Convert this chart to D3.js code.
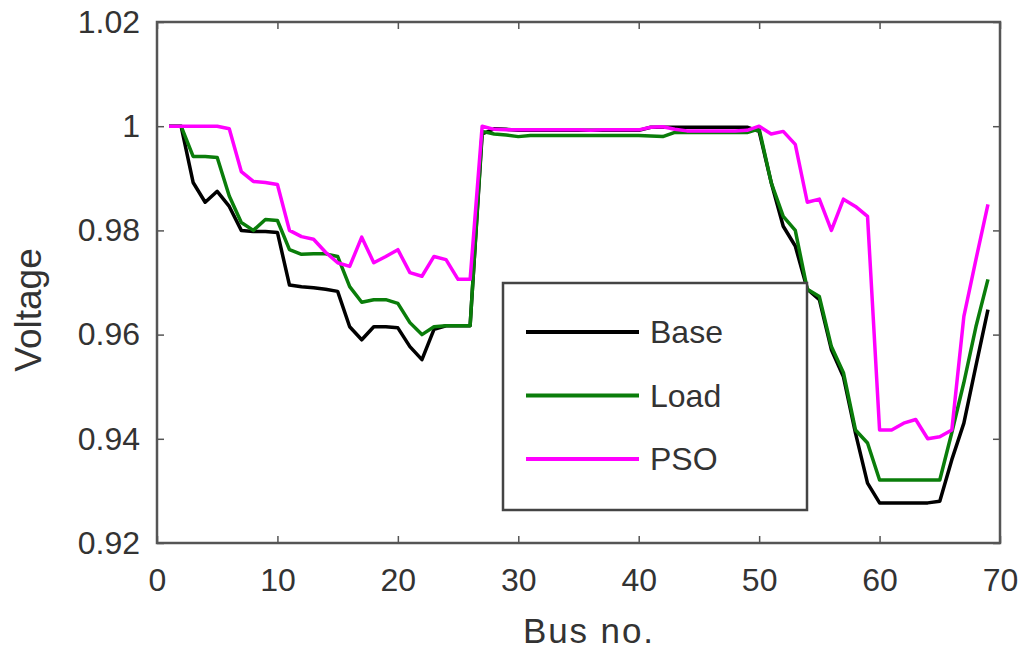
<!DOCTYPE html>
<html>
<head>
<meta charset="utf-8">
<script src="https://cdn.jsdelivr.net/npm/d3@7"></script>
<style>
  body { margin: 0; background: #fff; }
  text { font-family: "Liberation Sans", Arial, sans-serif; fill: #333; }
</style>
</head>
<body>
<div id="chart"></div>
<script>
var w = 1025,
    h = 652;

// bus numbers
var buses = [1,2,3,4,5,6,7,8,9,10,11,12,13,14,15,16,17,18,19,20,
  21,22,23,24,25,26,27,28,29,30,31,32,33,34,35,36,37,38,39,40,
  41,42,43,44,45,46,47,48,49,50,51,52,53,54,55,56,57,58,59,60,
  61,62,63,64,65,66,67,68,69];

var base = [1.0,1.0,0.9892,0.9854,0.9875,0.9846,0.9800,0.9798,0.9798,0.9796,
  0.9695,0.9692,0.9690,0.9687,0.9683,0.9615,0.9590,0.9615,0.9615,0.9613,
  0.9577,0.9552,0.9610,0.9617,0.9617,0.9617,0.9985,0.9995,0.9994,0.9992,
  0.9992,0.9992,0.9992,0.9992,0.9992,0.9992,0.9992,0.9992,0.9992,0.9992,
  0.9998,0.9998,0.9998,0.9998,0.9998,0.9998,0.9998,0.9998,0.9998,0.9990,
  0.9892,0.9808,0.9770,0.9687,0.9667,0.9571,0.9519,0.9411,0.9315,0.9277,
  0.9277,0.9277,0.9277,0.9277,0.9280,0.9360,0.9430,0.9540,0.9648];

var load = [1.0,1.0,0.9942,0.9942,0.9940,0.9866,0.9815,0.9800,0.9821,0.9819,
  0.9763,0.9754,0.9755,0.9755,0.9750,0.9692,0.9662,0.9667,0.9667,0.9660,
  0.9623,0.9600,0.9615,0.9617,0.9617,0.9617,0.9990,0.9985,0.9983,0.9980,
  0.9982,0.9982,0.9982,0.9982,0.9982,0.9982,0.9982,0.9982,0.9982,0.9982,
  0.9981,0.9980,0.9988,0.9988,0.9988,0.9988,0.9988,0.9988,0.9988,0.9995,
  0.9892,0.9827,0.9800,0.9687,0.9673,0.9577,0.9527,0.9417,0.9392,0.9321,
  0.9321,0.9321,0.9321,0.9321,0.9321,0.9412,0.9508,0.9615,0.9706];

var pso = [1.0,1.0,1.0,1.0,1.0,0.9995,0.9913,0.9894,0.9892,0.9888,
  0.9800,0.9788,0.9783,0.9758,0.9738,0.9731,0.9787,0.9738,0.9750,0.9763,
  0.9719,0.9712,0.9750,0.9744,0.9706,0.9706,1.0,0.9994,0.9993,0.9993,
  0.9993,0.9993,0.9993,0.9993,0.9993,0.9992,0.9993,0.9993,0.9993,0.9993,
  0.9998,0.9999,0.9994,0.9991,0.9991,0.9991,0.9991,0.9991,0.9992,1.0,
  0.9985,0.9990,0.9965,0.9854,0.9860,0.9800,0.9860,0.9846,0.9827,0.9417,
  0.9417,0.9430,0.9437,0.9400,0.9404,0.9417,0.9635,0.9744,0.9850];

var xTicks = [0,10,20,30,40,50,60,70];
var yTicks = [0.92,0.94,0.96,0.98,1.0,1.02];

var series = [
  {name: "Base", values: base, color: "#000000"},
  {name: "Load", values: load, color: "#0a7d0a"},
  {name: "PSO",  values: pso,  color: "#ff00ff"}
];

// plot box (window.top is reserved, so use other names)
var padL = 157, padR = 1000, padT = 22, padB = 543;

var x = d3.scaleLinear().domain([0, 70]).range([padL, padR]);
var y = d3.scaleLinear().domain([0.92, 1.02]).range([padB, padT]);

var svg = d3.select("#chart").append("svg")
  .attr("width", w)
  .attr("height", h);

// lines
var line = d3.line()
  .x(function(d, i) { return x(buses[i]); })
  .y(function(d) { return y(d); });

svg.selectAll(".series")
  .data(series)
  .enter().append("path")
  .attr("class", "series")
  .attr("fill", "none")
  .attr("stroke", function(d) { return d.color; })
  .attr("stroke-width", 3.5)
  .attr("stroke-linejoin", "round")
  .attr("d", function(d) { return line(d.values); });

// axes, matlab style with inward ticks
var tickLen = 7;
var axisColor = "#555";

function styleAxis(g) {
  g.select(".domain").remove();
  g.selectAll("line").attr("stroke", axisColor).attr("stroke-width", 1.5);
  g.selectAll("text").attr("font-size", 32).attr("fill", "#333")
    .attr("font-family", "Liberation Sans, Arial, sans-serif");
}

svg.append("g")
  .attr("transform", "translate(0," + padB + ")")
  .call(d3.axisBottom(x).tickValues(xTicks).tickSize(-tickLen).tickPadding(25)
    .tickFormat(d3.format("d")))
  .call(styleAxis);

svg.append("g")
  .attr("transform", "translate(" + padL + ",0)")
  .call(d3.axisLeft(y).tickValues(yTicks).tickSize(-tickLen).tickPadding(17)
    .tickFormat(function(d) { return String(+d.toFixed(2)); }))
  .call(styleAxis);

// top and right ticks
svg.append("g")
  .attr("transform", "translate(0," + padT + ")")
  .call(d3.axisTop(x).tickValues(xTicks).tickSize(-tickLen).tickFormat(""))
  .call(styleAxis);

svg.append("g")
  .attr("transform", "translate(" + padR + ",0)")
  .call(d3.axisRight(y).tickValues(yTicks).tickSize(-tickLen).tickFormat(""))
  .call(styleAxis);

// box
svg.append("rect")
  .attr("x", padL)
  .attr("y", padT)
  .attr("width", padR - padL)
  .attr("height", padB - padT)
  .attr("fill", "none")
  .attr("stroke", axisColor)
  .attr("stroke-width", 2.5);

// axis labels
svg.append("text")
  .attr("x", 523)
  .attr("y", 643)
  .attr("font-size", 35)
  .attr("textLength", 130)
  .text("Bus no.");

svg.append("text")
  .attr("transform", "translate(41,310) rotate(-90)")
  .attr("text-anchor", "middle")
  .attr("font-size", 37)
  .text("Voltage");

// legend
var legend = svg.append("g");
legend.append("rect")
  .attr("x", 503)
  .attr("y", 283)
  .attr("width", 304)
  .attr("height", 227)
  .attr("fill", "#fff")
  .attr("stroke", "#444")
  .attr("stroke-width", 2.5);

var legendY = d3.scalePoint().domain(series.map(function(d) { return d.name; }))
  .range([332, 459]);

var item = legend.selectAll(".item")
  .data(series)
  .enter().append("g")
  .attr("class", "item")
  .attr("transform", function(d) { return "translate(0," + legendY(d.name) + ")"; });

item.append("line")
  .attr("x1", 526)
  .attr("x2", 639)
  .attr("stroke", function(d) { return d.color; })
  .attr("stroke-width", 4);

item.append("text")
  .attr("x", 650)
  .attr("dy", "0.35em")
  .attr("font-size", 32)
  .text(function(d) { return d.name; });
</script>
</body>
</html>
